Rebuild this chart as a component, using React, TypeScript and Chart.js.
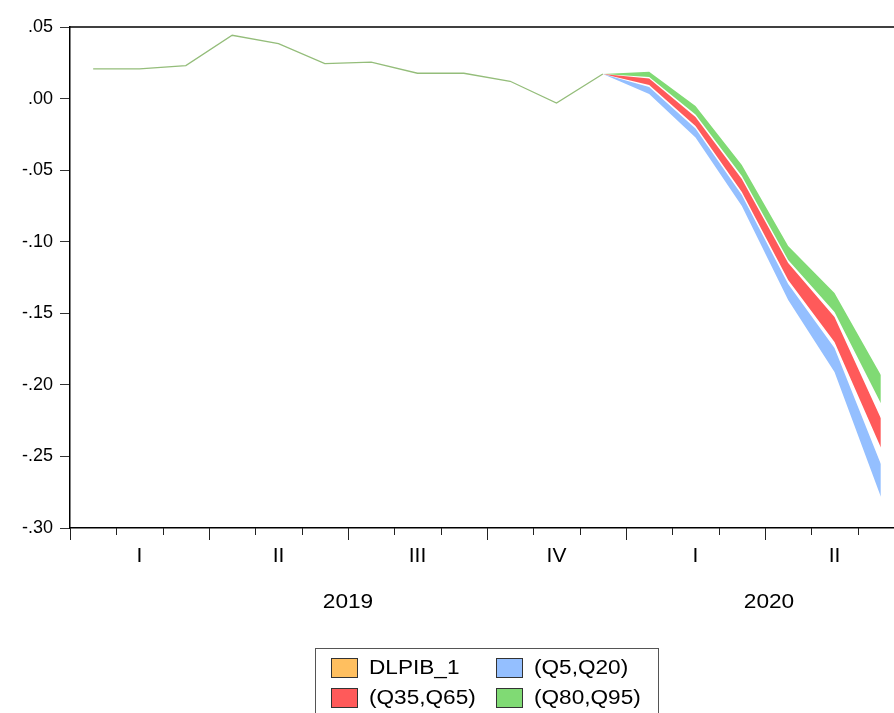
import React, { useEffect, useRef } from "react";
import { Chart, registerables } from "chart.js";

Chart.register(...registerables);

// Monthly periods, January 2019 to June 2020
const months = [
  "2019M01", "2019M02", "2019M03", "2019M04", "2019M05", "2019M06",
  "2019M07", "2019M08", "2019M09", "2019M10", "2019M11", "2019M12",
  "2020M01", "2020M02", "2020M03", "2020M04", "2020M05", "2020M06",
];
const quarterLabels = ["I", "II", "III", "IV", "I", "II"];
const yearLabels = ["2019", "2020"];

// Observed series
const dlpib1 = [
  0.0207, 0.0207, 0.023, 0.0442, 0.0384, 0.0244, 0.0254, 0.0177, 0.0177,
  0.0121, -0.0031, 0.0172, null, null, null, null, null, null,
];

// Forecast quantiles (fan starts at the last observation)
const h = [null, null, null, null, null, null, null, null, null, null, null];
const q5 = [...h, 0.0172, 0.0032, -0.0272, -0.0751, -0.1407, -0.1911, -0.2782];
const q20 = [...h, 0.0172, 0.0081, -0.0209, -0.0674, -0.1295, -0.1743, -0.2553];
const q35 = [...h, 0.0172, 0.0095, -0.0191, -0.0653, -0.1267, -0.1701, -0.2437];
const q65 = [...h, 0.0172, 0.014, -0.0129, -0.0562, -0.1148, -0.1526, -0.2234];
const q80 = [...h, 0.0172, 0.0151, -0.0111, -0.0541, -0.1127, -0.1491, -0.2129];
const q95 = [...h, 0.0172, 0.0188, -0.0052, -0.0464, -0.103, -0.1358, -0.1932];

const legendLabels = ["DLPIB_1", "(Q5,Q20)", "(Q35,Q65)", "(Q80,Q95)"];
const ORANGE = "#ffbf5f";
const BLUE = "#94bfff";
const RED = "#ff5a5a";
const GREEN = "#80da74";
const LINE = "#94bd7a";
const legendColors = [ORANGE, BLUE, RED, GREEN];

const FONT = "'Liberation Sans', Arial, sans-serif";

const fmtTick = (v: number) => {
  if (Math.abs(v) < 1e-9) return ".00";
  return v.toFixed(2).replace("0.", ".");
};

// text drawn slightly widened, like the graph's own typeface
const wideText = (ctx: any, s: string, x: number, y: number, sx: number) => {
  ctx.save();
  ctx.translate(x, y);
  ctx.scale(sx, 1);
  ctx.fillText(s, 0, 0);
  ctx.restore();
};

const frame = {
  id: "eviewsFrame",
  afterDraw(chart: any) {
    const { ctx, chartArea } = chart;
    const x = chart.scales.x;
    const n = months.length;
    const step = x.getPixelForValue(1) - x.getPixelForValue(0);
    const edge = (i: number) => x.getPixelForValue(i) - step / 2;
    const base = chartArea.bottom;
    ctx.save();
    // top border
    ctx.strokeStyle = "#000";
    ctx.lineWidth = 1.5;
    ctx.beginPath();
    ctx.moveTo(chartArea.left, chartArea.top);
    ctx.lineTo(chartArea.right, chartArea.top);
    ctx.stroke();
    // month ticks, longer at quarter boundaries
    ctx.strokeStyle = "#222";
    ctx.lineWidth = 1;
    for (let i = 0; i <= n; i++) {
      const px = Math.round(edge(i)) + 0.5;
      const len = i % 3 === 0 ? 12 : 7;
      ctx.beginPath();
      ctx.moveTo(px, base);
      ctx.lineTo(px, base + len);
      ctx.stroke();
    }
    ctx.fillStyle = "#000";
    ctx.textAlign = "center";
    ctx.textBaseline = "middle";
    ctx.font = `20px ${FONT}`;
    quarterLabels.forEach((q, k) => {
      const cx = (edge(k * 3) + edge(k * 3 + 3)) / 2;
      wideText(ctx, q, cx, base + 28, 1.05);
    });
    ctx.font = `21px ${FONT}`;
    yearLabels.forEach((yl, k) => {
      const a = edge(k * 12);
      const b = edge(Math.min(n, k * 12 + 12));
      wideText(ctx, yl, (a + b) / 2 + (k === 1 ? 4 : 0), base + 74, 1.08);
    });

    // legend box
    const bx = 315, by = 648, bw = 343, bh = 80;
    ctx.fillStyle = "#fff";
    ctx.fillRect(bx, by, bw, bh);
    ctx.strokeStyle = "#555";
    ctx.lineWidth = 1;
    ctx.strokeRect(bx + 0.5, by + 0.5, bw, bh);
    ctx.font = `20px ${FONT}`;
    ctx.textAlign = "left";
    legendLabels.forEach((label, k) => {
      const col = k % 2;
      const row = Math.floor(k / 2);
      const sx = col === 0 ? 331 : 496;
      const sy = row === 0 ? 658 : 688;
      ctx.fillStyle = legendColors[k];
      ctx.fillRect(sx, sy, 26, 19);
      ctx.strokeStyle = "#333";
      ctx.strokeRect(sx + 0.5, sy + 0.5, 26, 19);
      ctx.fillStyle = "#000";
      wideText(ctx, label, sx + 38, sy + 10, 1.13);
    });
    ctx.restore();
  },
};

const band = (data: (number | null)[], color: string, fill: any) => ({
  data,
  borderWidth: 0,
  borderColor: color,
  backgroundColor: color,
  pointRadius: 0,
  tension: 0,
  fill,
});

export default function App() {
  const ref = useRef<HTMLCanvasElement>(null);
  useEffect(() => {
    if (!ref.current) return;
    const chart = new Chart(ref.current, {
      type: "line",
      data: {
        labels: months,
        datasets: [
          band(q5, BLUE, false),
          band(q20, BLUE, "-1"),
          band(q35, RED, false),
          band(q65, RED, "-1"),
          band(q80, GREEN, false),
          band(q95, GREEN, "-1"),
          {
            data: dlpib1,
            borderColor: LINE,
            borderWidth: 1.3,
            pointRadius: 0,
            tension: 0,
            fill: false,
          },
        ],
      },
      options: {
        animation: false,
        responsive: false,
        devicePixelRatio: 1,
        layout: { padding: { top: 27, right: 0, left: 0, bottom: 0 } },
        plugins: { legend: { display: false }, tooltip: { enabled: false } },
        scales: {
          x: {
            type: "category",
            offset: true,
            ticks: { display: false },
            grid: { display: true, drawOnChartArea: false, drawTicks: false, color: "transparent" },
            border: { display: true, color: "#000", width: 1.5 },
            afterFit: (s: any) => { s.height = 185; },
          },
          y: {
            min: -0.3,
            max: 0.05,
            ticks: {
              stepSize: 0.05,
              color: "#000",
              padding: 7,
              font: { family: FONT, size: 18 },
              callback: (v: any) => fmtTick(Number(v)),
            },
            grid: { drawOnChartArea: false, drawTicks: true, tickLength: 10, color: "#333" },
            border: { display: true, color: "#000", width: 1.5 },
            afterFit: (s: any) => { s.width = 70; },
          },
        },
      },
      plugins: [frame],
    });
    return () => chart.destroy();
  }, []);
  return (
    <div style={{ position: "fixed", left: 0, top: 0, width: 894, height: 713, overflow: "hidden", background: "#fff" }}>
      <canvas ref={ref} width={904} height={713} style={{ display: "block" }} />
    </div>
  );
}
